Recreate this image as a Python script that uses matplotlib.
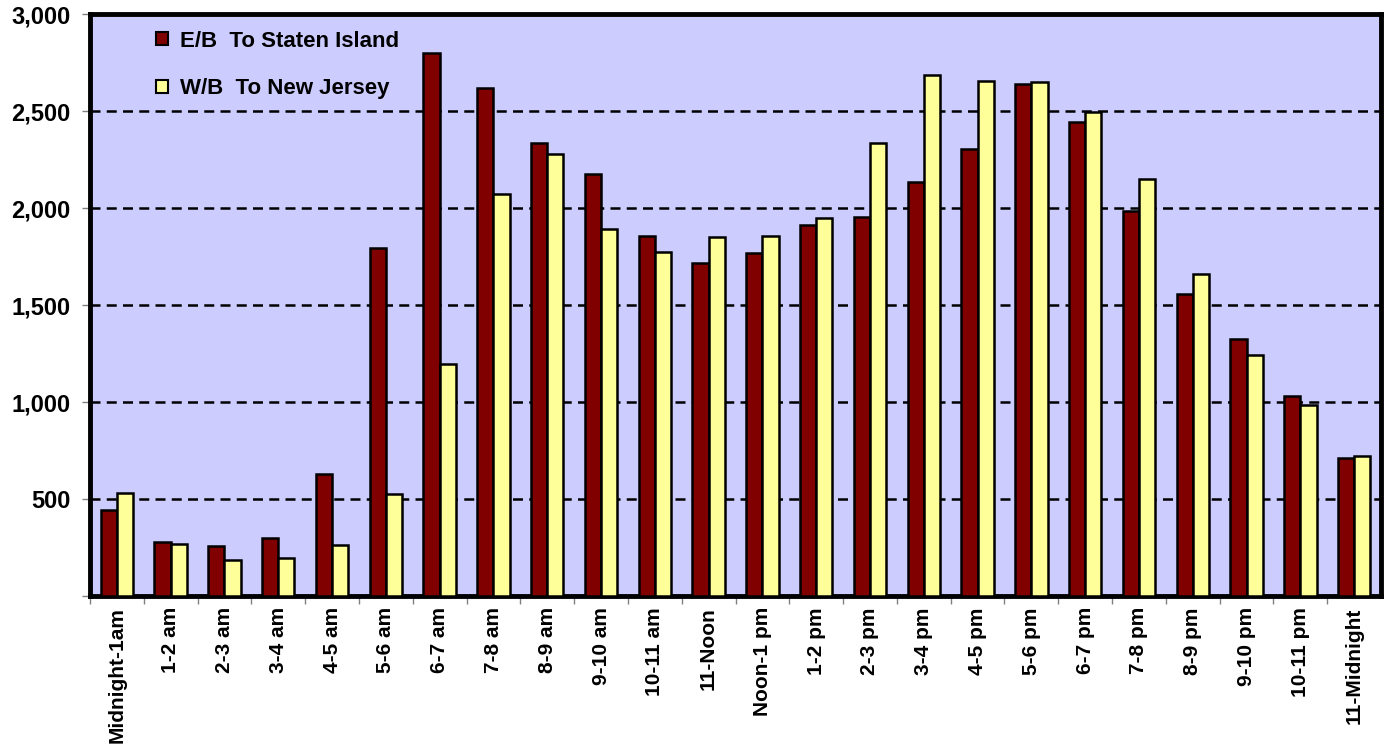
#!/usr/bin/env python3
"""
Hourly traffic volumes by direction - grouped bar chart
"""

import numpy as np
import matplotlib.pyplot as plt
from matplotlib.patches import Patch

plt.rcParams['font.family'] = ['Liberation Sans', 'DejaVu Sans']
plt.rcParams['font.weight'] = 'bold'

hours = ['Midnight-1am', '1-2 am', '2-3 am', '3-4 am', '4-5 am', '5-6 am',
         '6-7 am', '7-8 am', '8-9 am', '9-10 am', '10-11 am', '11-Noon',
         'Noon-1 pm', '1-2 pm', '2-3 pm', '3-4 pm', '4-5 pm', '5-6 pm',
         '6-7 pm', '7-8 pm', '8-9 pm', '9-10 pm', '10-11 pm', '11-Midnight']

eastbound = [443, 277, 259, 297, 630, 1794, 2797, 2617, 2333, 2175, 1857, 1718,
             1770, 1914, 1955, 2133, 2303, 2640, 2441, 1984, 1557, 1325, 1033, 709]
westbound = [532, 268, 184, 194, 263, 526, 1195, 2070, 2280, 1892, 1775, 1849,
             1854, 1948, 2334, 2684, 2655, 2650, 2496, 2149, 1662, 1241, 987, 722]

eb_label = 'E/B  To Staten Island'
wb_label = 'W/B  To New Jersey'

# Colors
eb_color = '#800000'
wb_color = '#FFFF99'
bg_color = '#CCCCFF'

fig = plt.figure(figsize=(13.88, 7.54), dpi=100)
ax = fig.add_axes([0.0648, 0.2095, 0.9302, 0.7719])
ax.set_facecolor(bg_color)

x = np.arange(len(hours))
width = 0.3

ax.bar(x - width / 2, eastbound, width, color=eb_color, edgecolor='black',
       linewidth=1.8, zorder=3)
ax.bar(x + width / 2, westbound, width, color=wb_color, edgecolor='black',
       linewidth=1.8, zorder=3)

ax.set_xlim(-0.5, len(hours) - 0.5)
ax.set_ylim(0, 3000)

# Y axis
yticks = np.arange(0, 3001, 500)
ax.set_yticks(yticks)
ax.set_yticklabels([''] + [f'{v:,}' for v in yticks[1:]], fontsize=17, fontweight='bold')
for v in yticks[1:-1]:
    ax.axhline(v, color='black', linestyle=(0, (4, 2.5)), linewidth=1.8, zorder=1)

# X axis
ax.set_xticks(x - 0.5, minor=False)
ax.set_xticklabels([])
ax.set_xticks(x, minor=True)
ax.set_xticklabels(hours, minor=True, rotation=90, fontsize=15, fontweight='bold')
ax.tick_params(axis='x', which='minor', length=0, pad=8)
ax.tick_params(axis='x', which='major', length=6, color='#808080', width=1)
ax.tick_params(axis='y', length=6, color='#808080', width=1, pad=8)

for spine in ax.spines.values():
    spine.set_linewidth(3.5)
    spine.set_color('black')

handles = [Patch(facecolor=eb_color, edgecolor='black', linewidth=1.5, label=eb_label),
           Patch(facecolor=wb_color, edgecolor='black', linewidth=1.5, label=wb_label)]
ax.legend(handles=handles, loc='upper left', bbox_to_anchor=(0.036, 1.006),
          frameon=False, prop={'size': 16, 'weight': 'bold'},
          handlelength=0.5, handleheight=0.55, handletextpad=0.55, labelspacing=1.2)

fig.savefig('out.png', dpi=100, facecolor='white')
